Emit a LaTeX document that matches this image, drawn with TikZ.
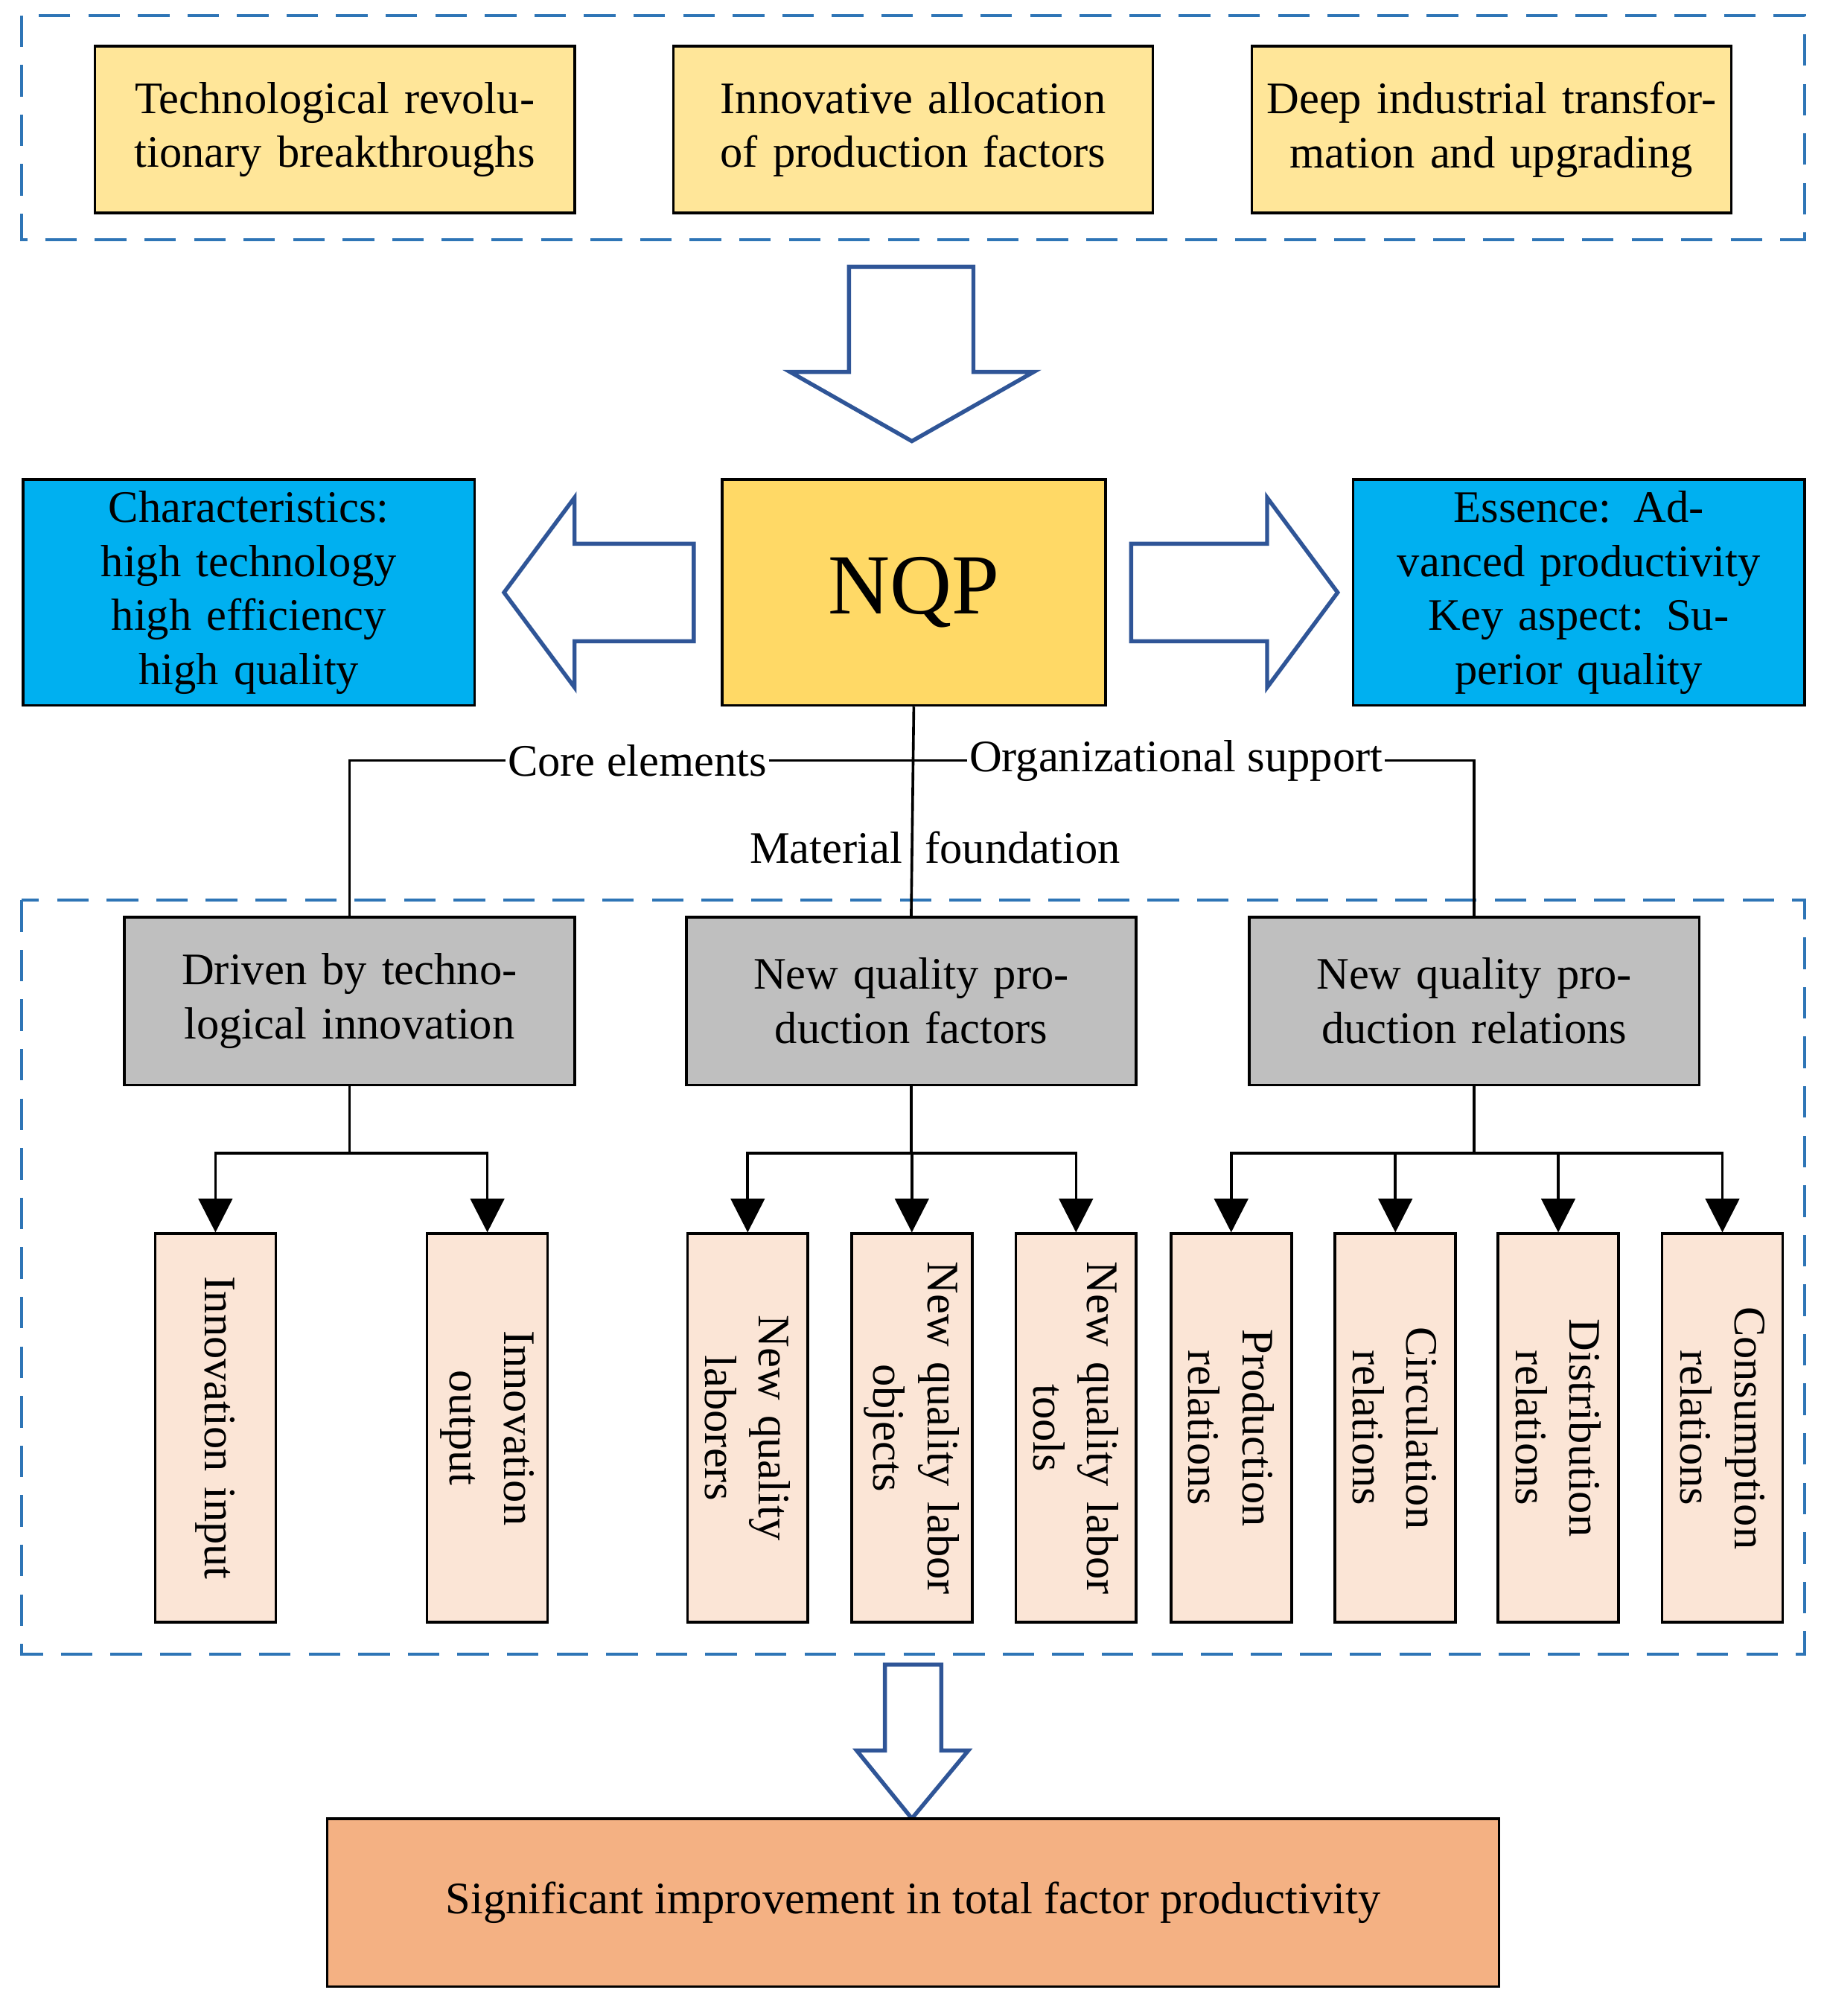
\documentclass[tikz,border=0pt]{standalone}
\usepackage{fontspec}
\setmainfont{Liberation Serif}
\usetikzlibrary{arrows.meta}
\definecolor{dashblue}{HTML}{2E75B6}
\definecolor{arrblue}{HTML}{2F5597}
\definecolor{ylw}{HTML}{FFE699}
\definecolor{gold}{HTML}{FFD966}
\definecolor{cyanb}{HTML}{00B0F0}
\definecolor{gry}{HTML}{BFBFBF}
\definecolor{peach}{HTML}{FBE5D6}
\definecolor{orng}{HTML}{F4B183}
\begin{document}
\begin{tikzpicture}[x=0.02cm,y=-0.02cm,
 base/.style={draw=black,line width=1.2pt,align=center,font=\fontsize{20}{24}\selectfont,inner sep=2pt},
 top/.style={base,fill=ylw,minimum width=7.48cm,minimum height=2.6cm,text width=7.2cm},
 blu/.style={base,fill=cyanb,minimum width=7.04cm,minimum height=3.52cm,text width=6.9cm},
 gr/.style={base,fill=gry,minimum width=7.02cm,minimum height=2.62cm,text width=6.8cm},
 leaf/.style={base,fill=peach,rotate=-90,minimum width=6.06cm,minimum height=1.88cm,text width=5.8cm},
 dbox/.style={draw=dashblue,line width=1.3pt,dash pattern=on 14pt off 8pt},
 bigarr/.style={draw=arrblue,line width=1.8pt,fill=white,line join=miter},
 con/.style={line width=1.2pt},
 arr/.style={con,-{Triangle[width=15pt,length=15pt]}},
 lab/.style={font=\fontsize{20}{24}\selectfont,fill=white,inner sep=1pt}]
\useasboundingbox (0,0) rectangle (1422,1572);
\draw[dbox] (17,12) rectangle (1407,187);
\node[top] (t1) at (261,101) {Technological revolutionary breakthroughs};
\node[top] (t2) at (712,101) {Innovative allocation of production factors};
\node[top] (t3) at (1163,101) {Deep industrial transformation and upgrading};
\draw[bigarr] (662,208) -- (759,208) -- (759,290) -- (806,290) -- (711,344) -- (616,290) -- (662,290) -- cycle;
\node[base,fill=gold,minimum width=5.98cm,minimum height=3.52cm,font=\fontsize{38}{40}\selectfont] (nqp) at (712.5,462) {NQP};
\node[blu] (ch) at (194,462) {Characteristics:\\high technology\\high efficiency\\high quality};
\node[blu] (es) at (1231,462) {Essence: Advanced productivity\\Key aspect: Superior quality};
\draw[bigarr] (541,424) -- (448,424) -- (448,388) -- (393,462) -- (448,536) -- (448,500) -- (541,500) -- cycle;
\draw[bigarr] (882,424) -- (988,424) -- (988,388) -- (1043,462) -- (988,536) -- (988,500) -- (882,500) -- cycle;
\draw[dbox] (17,702) rectangle (1407,1290);
\node[gr] (g1) at (272.5,780.5) {Driven by technological innovation};
\node[gr] (g2) at (710.5,780.5) {New quality production factors};
\node[gr] (g3) at (1149.5,780.5) {New quality production relations};
\coordinate (j) at (711,593);
\draw[con] (nqp.south) -- (g2.north);
\draw[con] (g1.north) |- (j) -| (g3.north);
\node[lab] at (497,593) {Core elements};
\node[lab] at (917,593) {Organizational support};
\node[font=\fontsize{20}{24}\selectfont,inner sep=1pt] at (729,661) {Material\hspace{0.5em}foundation};
\foreach \n/\x/\t in {a/168/Innovation input,b/380/Innovation\\output,c/583/New quality\\laborers,d/711/New quality labor\\objects,e/839/New quality labor\\tools,f/960/Production\\relations,g/1088/Circulation\\relations,h/1215/Distribution\\relations,i/1343/Consumption\\relations}
  \node[leaf] (\n) at (\x,1113.5) {\t};
\foreach \g/\l in {g1/a,g1/b,g2/c,g2/d,g2/e,g3/f,g3/g,g3/h,g3/i}
  \draw[arr] (\g.south) -- ++(0,52) -| (\l.west);
\draw[bigarr] (690,1298) -- (734,1298) -- (734,1365) -- (755,1365) -- (711,1418) -- (668,1365) -- (690,1365) -- cycle;
\node[base,fill=orng,minimum width=18.28cm,minimum height=2.62cm] (fin) at (712,1483.5) {Significant improvement in total factor productivity};
\end{tikzpicture}
\end{document}
